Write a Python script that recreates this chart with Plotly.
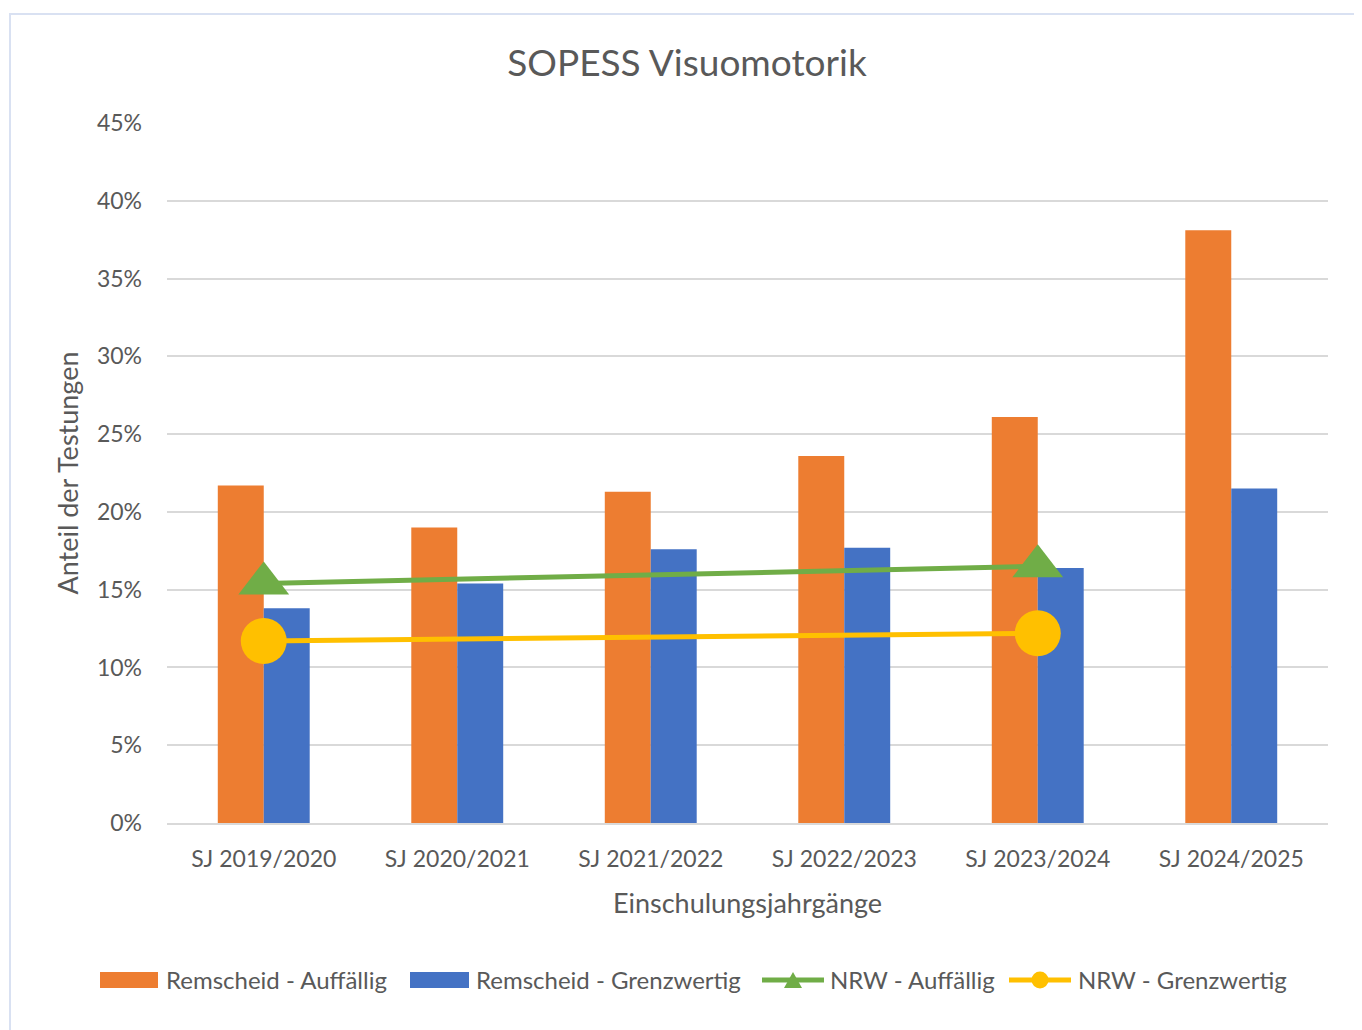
import plotly.graph_objects as go

categories = ["SJ 2019/2020", "SJ 2020/2021", "SJ 2021/2022", "SJ 2022/2023", "SJ 2023/2024", "SJ 2024/2025"]
remscheid_auffaellig = [21.7, 19.0, 21.3, 23.6, 26.1, 38.1]
remscheid_grenzwertig = [13.8, 15.4, 17.6, 17.7, 16.4, 21.5]
nrw_auffaellig = [15.4, None, None, None, 16.5, None]
nrw_grenzwertig = [11.7, None, None, None, 12.2, None]
y_ticks = [0, 5, 10, 15, 20, 25, 30, 35, 40, 45]
y_tick_labels = ["0%", "5%", "10%", "15%", "20%", "25%", "30%", "35%", "40%", "45%"]
series_names = ["Remscheid - Auffällig", "Remscheid - Grenzwertig", "NRW - Auffällig", "NRW - Grenzwertig"]

FONT = "Lato"
GREY = "#595959"
ORANGE, BLUE, GREEN, YELLOW = "#ED7D31", "#4472C4", "#70AD47", "#FFC000"

# page body has an 8px margin: place the plot area accordingly
L, T, PW, PH = 159, 115, 1161, 700
W, H = 1362, 1030


def px(x):
    """screen x (page pixels) -> paper x"""
    return (x - 8 - L) / PW


def py(y):
    """screen y (page pixels) -> paper y"""
    return (T + PH - (y - 8)) / PH


fig = go.Figure()
fig.add_trace(go.Bar(x=categories, y=remscheid_auffaellig, name=series_names[0],
                     marker=dict(color=ORANGE, line=dict(width=0))))
fig.add_trace(go.Bar(x=categories, y=remscheid_grenzwertig, name=series_names[1],
                     marker=dict(color=BLUE, line=dict(width=0))))
fig.add_trace(go.Scatter(x=categories, y=nrw_auffaellig, name=series_names[2], mode="lines+markers",
                         connectgaps=True, line=dict(color=GREEN, width=5),
                         marker=dict(symbol="triangle-up", size=44, color=GREEN)))
fig.add_trace(go.Scatter(x=categories, y=nrw_grenzwertig, name=series_names[3], mode="lines+markers",
                         connectgaps=True, line=dict(color=YELLOW, width=5),
                         marker=dict(symbol="circle", size=46, color=YELLOW)))

fig.update_layout(
    width=W, height=H,
    margin=dict(l=L, r=W - L - PW, t=T, b=H - T - PH),
    paper_bgcolor="white", plot_bgcolor="white",
    font=dict(family=FONT, color=GREY, size=22),
    barmode="group", bargap=0.525, bargroupgap=0,
    title=dict(text="SOPESS Visuomotorik", x=(687 - 8) / W, xanchor="center", y=1 - 55 / H,
               yanchor="middle", yref="container", font=dict(size=37, color=GREY, family=FONT)),
    xaxis=dict(showgrid=False, showline=True, linecolor="#D9D9D9", linewidth=2,
               ticks="", tickfont=dict(size=23), ticklabelstandoff=14,
               title=dict(text="Einschulungsjahrgänge", font=dict(size=27), standoff=24)),
    yaxis=dict(range=[0, 45], tickvals=y_ticks, ticktext=y_tick_labels, showgrid=True,
               gridcolor="#D9D9D9", gridwidth=2, zeroline=False, showline=False,
               tickfont=dict(size=23), ticklabelstandoff=24,
               title=dict(text="Anteil der Testungen", font=dict(size=27), standoff=10)),
    showlegend=False,
)

# chart border (left and top edges visible)
fig.add_shape(type="rect", xref="paper", yref="paper",
              x0=px(10), x1=px(W + 20), y0=py(H + 20), y1=py(14),
              line=dict(color="#D9E1F2", width=2), fillcolor="rgba(0,0,0,0)", layer="below")

# legend drawn at the bottom (Excel style: wide swatches, long line symbols)
LY = 980
# bar swatches
for (x0, x1), col in [((100, 158), ORANGE), ((410, 469), BLUE)]:
    fig.add_shape(type="rect", xref="paper", yref="paper",
                  x0=px(x0), x1=px(x1), y0=py(LY + 8), y1=py(LY - 8),
                  line=dict(width=0), fillcolor=col)
# line swatches
for (x0, x1), col in [((762, 824), GREEN), ((1009, 1071), YELLOW)]:
    fig.add_shape(type="line", xref="paper", yref="paper",
                  x0=px(x0), x1=px(x1), y0=py(LY), y1=py(LY),
                  line=dict(color=col, width=5))
# triangle symbol
tx, tw, th = 793, 18, 16
fig.add_shape(type="path", xref="paper", yref="paper",
              path=f"M {px(tx - tw / 2)} {py(LY + th / 2)} L {px(tx + tw / 2)} {py(LY + th / 2)} "
                   f"L {px(tx)} {py(LY - th / 2)} Z",
              line=dict(width=0), fillcolor=GREEN)
# circle symbol
cx, r = 1040, 8.5
fig.add_shape(type="circle", xref="paper", yref="paper",
              x0=px(cx - r), x1=px(cx + r), y0=py(LY + r), y1=py(LY - r),
              line=dict(width=0), fillcolor=YELLOW)
# legend texts
for xs, name in zip([164, 474, 828, 1076], series_names):
    fig.add_annotation(x=px(xs), y=py(LY), xref="paper", yref="paper", text=name,
                       showarrow=False, xanchor="left", yanchor="middle",
                       font=dict(size=24, color=GREY, family=FONT))

fig.write_html("out.html")
